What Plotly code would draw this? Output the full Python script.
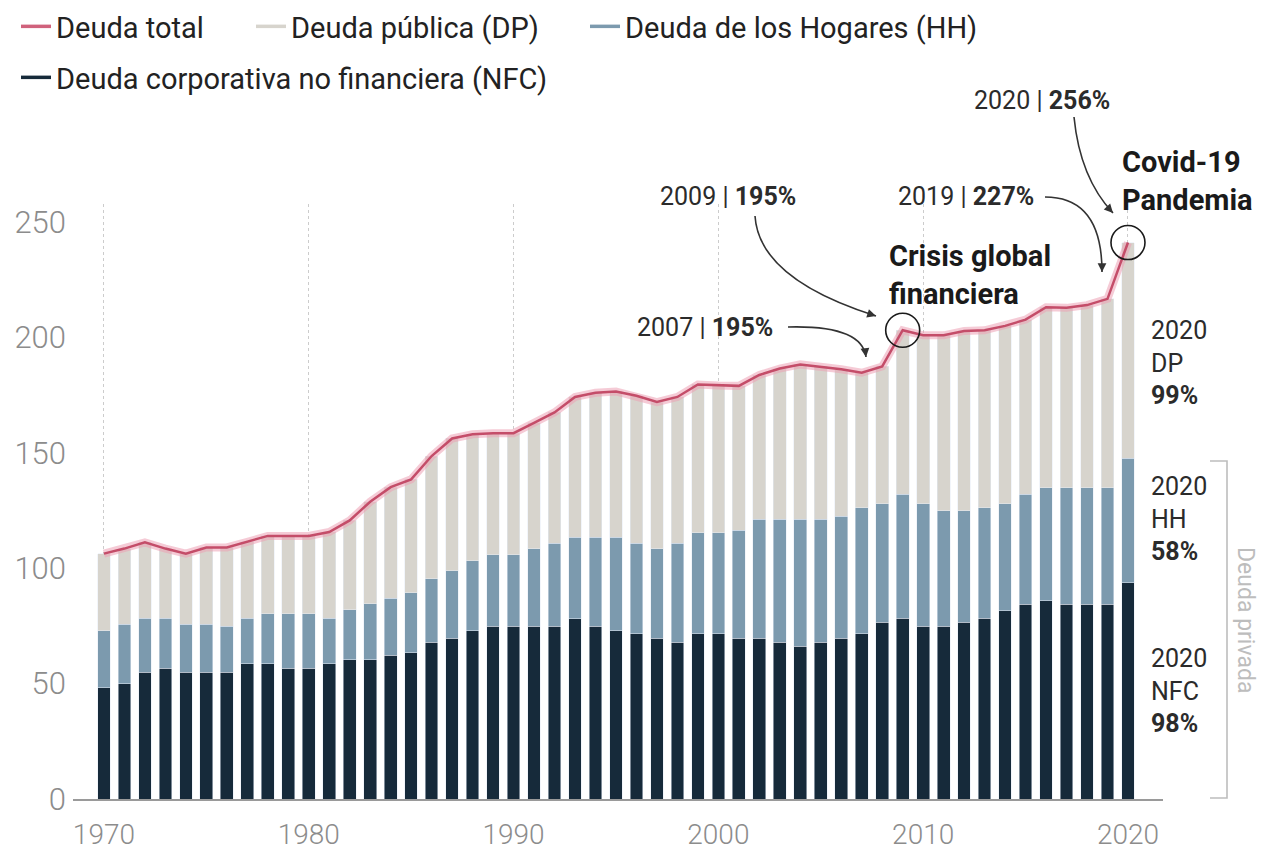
import math
import plotly.graph_objects as go

# ---------------- data ----------------
years = list(range(1970, 2021))

# Deuda corporativa no financiera (NFC), % PIB
nfc = [48.1, 49.9, 54.9, 56.7, 54.9, 54.9, 54.9, 58.5, 58.5, 56.7,
       56.7, 58.5, 60.3, 60.3, 62.2, 63.4, 67.9, 69.7, 73.0, 74.8,
       74.8, 74.8, 74.8, 78.0, 74.8, 73.0, 71.5, 69.7, 67.9, 71.5,
       71.5, 69.7, 69.7, 67.9, 66.1, 67.9, 69.7, 71.5, 76.6, 78.4,
       74.8, 74.8, 76.6, 78.4, 81.6, 84.3, 86.0, 84.3, 84.3, 84.3,
       93.8]

# Deuda de los Hogares (HH)
hh = [24.9, 25.8, 23.5, 21.7, 20.8, 20.8, 19.9, 19.9, 21.7, 23.5,
      23.5, 19.9, 21.7, 24.4, 24.8, 26.0, 27.6, 29.3, 30.2, 31.0,
      31.0, 33.7, 36.0, 35.5, 38.7, 40.5, 39.3, 38.8, 42.9, 43.8,
      43.8, 46.8, 51.5, 53.3, 55.1, 53.4, 52.9, 54.7, 51.4, 53.7,
      53.2, 50.1, 48.3, 47.8, 46.4, 47.8, 48.8, 50.5, 50.5, 50.5,
      53.9]

# Deuda pública (DP)
dp = [33.3, 32.8, 32.8, 30.1, 30.6, 33.3, 34.2, 33.0, 33.8, 33.8,
      33.8, 37.3, 38.7, 44.1, 48.1, 49.1, 53.1, 57.2, 54.8, 52.7,
      52.7, 54.5, 56.7, 60.7, 62.5, 63.1, 63.9, 63.5, 63.4, 64.3,
      63.9, 62.5, 62.5, 65.3, 67.1, 66.1, 63.6, 58.5, 59.4, 71.0,
      72.9, 76.0, 77.9, 76.9, 77.0, 75.6, 78.3, 78.0, 79.2, 81.9,
      93.4]

total = [round(a + b + c, 1) for a, b, c in zip(nfc, hh, dp)]

x_ticks = [1970, 1980, 1990, 2000, 2010, 2020]
y_ticks = [0, 50, 100, 150, 200, 250]

names = ["Deuda total", "Deuda pública (DP)", "Deuda de los Hogares (HH)",
         "Deuda corporativa no financiera (NFC)"]

# ---------------- style ----------------
C_TOTAL = "#c44d69"
C_HALO = "rgba(236,160,180,0.55)"
C_DP = "#d7d4cd"
C_HH = "#7c9aae"
C_NFC = "#162a3a"
FONT = "Roboto"

W, H = 1266, 854
L, R, T, B = 73, 1163, 204, 799


def PX(px):
    return (px - L) / (R - L)


def PY(py):
    return (B - py) / (B - T)


fig = go.Figure()

fig.add_trace(go.Bar(x=years, y=nfc, marker_color=C_NFC, showlegend=False,
                     name=names[3]))
fig.add_trace(go.Bar(x=years, y=hh, marker_color=C_HH, showlegend=False,
                     name=names[2]))
fig.add_trace(go.Bar(x=years, y=dp, marker_color=C_DP, showlegend=False,
                     name=names[1]))

# total line with halo
fig.add_trace(go.Scatter(x=years, y=total, mode="lines",
                         line=dict(color=C_HALO, width=8),
                         showlegend=False, hoverinfo="skip"))
fig.add_trace(go.Scatter(x=years, y=total, mode="lines",
                         line=dict(color=C_TOTAL, width=2.5),
                         showlegend=False, name=names[0]))

# legend entries (line symbols), one legend box per entry
legend_specs = [(names[0], "#d0627c", "legend"),
                (names[1], C_DP, "legend2"),
                (names[2], C_HH, "legend3"),
                (names[3], C_NFC, "legend4")]
for nm, col, lg in legend_specs:
    fig.add_trace(go.Scatter(x=[None], y=[None], mode="lines",
                             line=dict(color=col, width=3.5),
                             name=nm, legend=lg))

shapes = []
annotations = []

# circles on key points
for yr in (2009, 2020):
    i = years.index(yr)
    shapes.append(dict(type="circle", xref="x", yref="y",
                       xsizemode="pixel", ysizemode="pixel",
                       xanchor=yr, yanchor=total[i],
                       x0=-17, x1=17, y0=-17, y1=17,
                       line=dict(color="#1a1a1a", width=1.6)))

# curved arrows (pixel layout positions -> paper)
arrows = [
    ((755, 216), (759, 279), (876, 316)),   # 2009
    ((788, 327), (862, 325), (866, 357)),   # 2007
    ((1045, 197), (1102, 197), (1102, 272)),  # 2019
    ((1074, 117), (1080, 178), (1113, 213)),  # 2020
]
for (s, c, e) in arrows:
    shapes.append(dict(type="path", xref="paper", yref="paper",
                       path=f"M {PX(s[0])},{PY(s[1])} Q {PX(c[0])},{PY(c[1])} {PX(e[0])},{PY(e[1])}",
                       line=dict(color="#333333", width=1.6)))
    dx, dy = c[0] - e[0], c[1] - e[1]
    n = math.hypot(dx, dy)
    annotations.append(dict(xref="paper", yref="paper", x=PX(e[0]), y=PY(e[1]),
                            ax=dx / n * 9, ay=dy / n * 9, text="",
                            showarrow=True, arrowhead=2, arrowsize=1.1,
                            arrowwidth=1.6, arrowcolor="#333333"))

# bracket "Deuda privada"
shapes.append(dict(type="path", xref="paper", yref="paper",
                   path=f"M {PX(1210)},{PY(461)} L {PX(1227)},{PY(461)} L {PX(1227)},{PY(798)} L {PX(1210)},{PY(798)}",
                   line=dict(color="#bdbdbd", width=1.6)))

txt = dict(family=FONT, size=25, color="#2b2b2b")
bold_big = dict(family=FONT, size=29, color="#1a1a1a")
annotations += [
    dict(xref="paper", yref="paper", x=PX(728), y=PY(196), text="2009 | <b>195%</b>",
         showarrow=False, font=txt, xanchor="center", yanchor="middle"),
    dict(xref="paper", yref="paper", x=PX(705), y=PY(327), text="2007 | <b>195%</b>",
         showarrow=False, font=txt, xanchor="center", yanchor="middle"),
    dict(xref="paper", yref="paper", x=PX(966), y=PY(196), text="2019 | <b>227%</b>",
         showarrow=False, font=txt, xanchor="center", yanchor="middle"),
    dict(xref="paper", yref="paper", x=PX(1042), y=PY(101), text="2020 | <b>256%</b>",
         showarrow=False, font=txt, xanchor="center", yanchor="middle"),
    dict(xref="paper", yref="paper", x=PX(887), y=PY(275),
         text="<b>Crisis global<br>financiera</b>", align="left",
         showarrow=False, font=bold_big, xanchor="left", yanchor="middle"),
    dict(xref="paper", yref="paper", x=PX(1120), y=PY(181),
         text="<b>Covid-19<br>Pandemia</b>", align="left",
         showarrow=False, font=bold_big, xanchor="left", yanchor="middle"),
    dict(xref="paper", yref="paper", x=PX(1149), y=PY(363),
         text="2020<br>DP<br><b>99%</b>", align="left",
         showarrow=False, font=txt, xanchor="left", yanchor="middle"),
    dict(xref="paper", yref="paper", x=PX(1149), y=PY(519),
         text="2020<br>HH<br><b>58%</b>", align="left",
         showarrow=False, font=txt, xanchor="left", yanchor="middle"),
    dict(xref="paper", yref="paper", x=PX(1149), y=PY(691),
         text="2020<br>NFC<br><b>98%</b>", align="left",
         showarrow=False, font=txt, xanchor="left", yanchor="middle"),
    dict(xref="paper", yref="paper", x=PX(1246), y=PY(620),
         text="Deuda privada", textangle=90,
         showarrow=False, font=dict(family=FONT, size=23, color="#bdbdbd"),
         xanchor="center", yanchor="middle"),
]

legend_font = dict(family=FONT, size=29, color="#222222")


def leg(xpx, ypx):
    return dict(orientation="h", xref="container", yref="container",
                x=xpx / W, y=1 - ypx / H, xanchor="left", yanchor="top",
                font=legend_font, itemwidth=30, bgcolor="rgba(0,0,0,0)")


fig.update_layout(
    width=W, height=H,
    margin=dict(l=L, r=W - R, t=T, b=H - B, autoexpand=False),
    paper_bgcolor="white", plot_bgcolor="white",
    barmode="stack", bargap=0.38,
    font=dict(family=FONT),
    legend=leg(16, 1),
    legend2=leg(251, 1),
    legend3=leg(585, 1),
    legend4=leg(16, 52),
    xaxis=dict(range=[1968.49, 2021.71], tickvals=x_ticks,
               ticktext=[str(v) for v in x_ticks],
               showgrid=True, gridcolor="#cccccc", griddash="dot", gridwidth=1.3,
               layer="above traces", showline=True, linecolor="#9a9a9a",
               linewidth=2, zeroline=False, ticks="", ticklabelstandoff=9,
               automargin=False,
               tickfont=dict(family=FONT, size=28, color="#8c8c8c", weight=300)),
    yaxis=dict(range=[0, 257.8], tickvals=y_ticks,
               ticktext=[str(v) for v in y_ticks],
               showgrid=False, zeroline=False, ticks="", ticklabelstandoff=6,
               automargin=False,
               tickfont=dict(family=FONT, size=31, color="#8c8c8c", weight=300)),
    shapes=shapes,
    annotations=annotations,
)

fig.write_html("out.html", config={"displayModeBar": False},
               post_script="document.body.style.margin='0px';document.body.style.overflow='hidden';")
